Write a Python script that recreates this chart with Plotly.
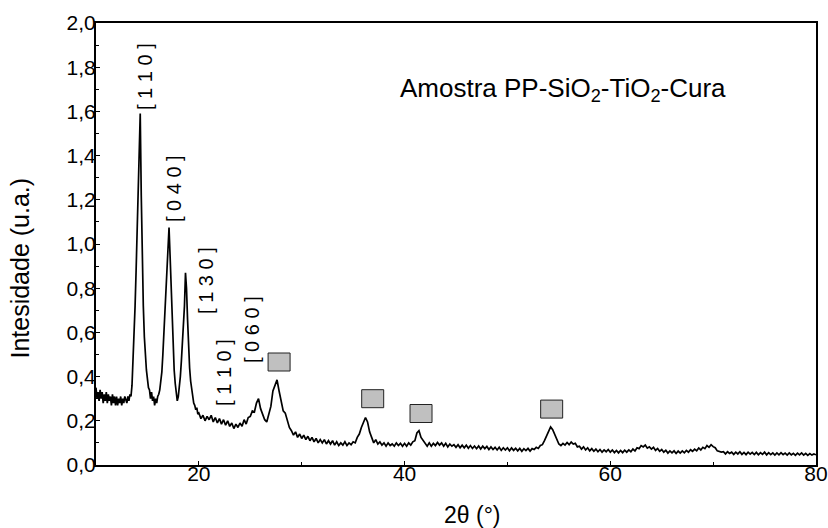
import numpy as np
import plotly.graph_objects as go

# 2-theta sampling: 0.1 deg steps through the strong PP reflections, 0.2 deg afterwards
two_theta = np.round(np.concatenate([np.arange(10.0, 19.95, 0.1), np.arange(20.0, 80.01, 0.2)]), 2)

# Diffracted intensity (u.a.)
intensity = [
    # 10.0 - 19.9 (step 0.1)
    0.35, 0.30, 0.33, 0.29, 0.34, 0.30, 0.33, 0.28, 0.32, 0.29,
    0.33, 0.28, 0.32, 0.29, 0.31, 0.27, 0.32, 0.28, 0.31, 0.27,
    0.31, 0.27, 0.30, 0.28, 0.31, 0.27, 0.30, 0.28, 0.31, 0.29,
    0.28, 0.31, 0.29, 0.32, 0.31, 0.36, 0.46, 0.58, 0.72, 0.88,
    1.08, 1.30, 1.50, 1.59, 1.22, 0.90, 0.72, 0.58, 0.49, 0.43,
    0.39, 0.35, 0.34, 0.30, 0.33, 0.29, 0.31, 0.27, 0.30, 0.28,
    0.31, 0.32, 0.34, 0.37, 0.42, 0.50, 0.60, 0.71, 0.82, 0.93,
    1.02, 1.075, 0.95, 0.80, 0.63, 0.51, 0.43, 0.37, 0.32, 0.29,
    0.31, 0.35, 0.40, 0.47, 0.55, 0.64, 0.72, 0.87, 0.80, 0.66,
    0.52, 0.44, 0.38, 0.34, 0.31, 0.28, 0.27, 0.25, 0.26, 0.23,
    # 20.0 - 80.0 (step 0.2)
    0.235, 0.21, 0.225, 0.20, 0.22,
    0.205, 0.225, 0.195, 0.215, 0.19,
    0.21, 0.185, 0.205, 0.18, 0.20,
    0.175, 0.19, 0.165, 0.185, 0.17,
    0.19, 0.175, 0.205, 0.185, 0.215,
    0.22, 0.245, 0.24, 0.28, 0.30,
    0.255, 0.225, 0.205, 0.195, 0.225,
    0.265, 0.335, 0.36, 0.385, 0.335,
    0.29, 0.245, 0.235, 0.205, 0.17,
    0.155, 0.135, 0.15, 0.125, 0.14,
    0.12, 0.135, 0.115, 0.13, 0.11,
    0.125, 0.105, 0.12, 0.10, 0.115,
    0.10, 0.115, 0.095, 0.11, 0.095,
    0.11, 0.09, 0.105, 0.088, 0.10,
    0.09, 0.105, 0.088, 0.10, 0.092,
    0.105, 0.10, 0.125, 0.14, 0.17,
    0.19, 0.215, 0.195, 0.15, 0.125,
    0.10, 0.115, 0.095, 0.105, 0.09,
    0.10, 0.085, 0.10, 0.088, 0.095,
    0.085, 0.10, 0.088, 0.098, 0.085,
    0.098, 0.085, 0.10, 0.09, 0.105,
    0.11, 0.145, 0.155, 0.125, 0.11,
    0.095, 0.085, 0.10, 0.085, 0.098,
    0.088, 0.102, 0.09, 0.10, 0.085,
    0.098, 0.082, 0.095, 0.085, 0.092,
    0.08, 0.092, 0.078, 0.09, 0.078,
    0.09, 0.076, 0.088, 0.075, 0.086,
    0.074, 0.086, 0.072, 0.085, 0.074,
    0.084, 0.07, 0.082, 0.07, 0.08,
    0.068, 0.08, 0.066, 0.078, 0.068,
    0.078, 0.064, 0.077, 0.066, 0.076,
    0.064, 0.075, 0.062, 0.074, 0.065,
    0.075, 0.063, 0.074, 0.07, 0.08,
    0.075, 0.088, 0.092, 0.11, 0.13,
    0.15, 0.172, 0.16, 0.14, 0.115,
    0.095, 0.088, 0.098, 0.09, 0.102,
    0.092, 0.104, 0.095, 0.098, 0.082,
    0.085, 0.072, 0.082, 0.068, 0.078,
    0.064, 0.074, 0.062, 0.072, 0.06,
    0.07, 0.058, 0.068, 0.06, 0.07,
    0.058, 0.068, 0.056, 0.066, 0.055,
    0.066, 0.056, 0.067, 0.058, 0.068,
    0.06, 0.072, 0.064, 0.078, 0.074,
    0.088, 0.082, 0.09, 0.076, 0.082,
    0.072, 0.08, 0.066, 0.075, 0.062,
    0.07, 0.058, 0.067, 0.054, 0.064,
    0.055, 0.064, 0.052, 0.063, 0.054,
    0.064, 0.055, 0.066, 0.058, 0.069,
    0.062, 0.072, 0.064, 0.077, 0.068,
    0.08, 0.074, 0.088, 0.08, 0.092,
    0.083, 0.078, 0.064, 0.062, 0.058,
    0.06, 0.05, 0.06, 0.052, 0.058,
    0.048, 0.058, 0.05, 0.06, 0.048,
    0.057, 0.047, 0.058, 0.049, 0.057,
    0.047, 0.057, 0.046, 0.056, 0.048,
    0.058, 0.046, 0.056, 0.047, 0.055,
    0.045, 0.055, 0.046, 0.056, 0.047,
    0.054, 0.045, 0.055, 0.046, 0.053,
    0.044, 0.054, 0.046, 0.055, 0.045,
    0.053, 0.044, 0.052, 0.045, 0.05,
    0.046,
]

# Miller-index labels of polypropylene reflections (label anchor in data units)
hkl_labels = ["[ 1 1 0 ]", "[ 0 4 0 ]", "[ 1 3 0 ]", "[ 1 1 0 ]", "[ 0 6 0 ]"]
hkl_x = [14.76, 17.58, 20.69, 22.44, 25.17]
hkl_y = [1.76, 1.253, 0.837, 0.421, 0.611]

# Grey square markers above the oxide reflections
oxide_x = [27.8, 36.9, 41.6, 54.3]
oxide_y = [0.466, 0.300, 0.233, 0.253]

sample_title = "Amostra PP-SiO<sub>2</sub>-TiO<sub>2</sub>-Cura"
x_ticks = [20, 40, 60, 80]
y_ticks = [0.0, 0.2, 0.4, 0.6, 0.8, 1.0, 1.2, 1.4, 1.6, 1.8, 2.0]
y_tick_text = [f"{v:.1f}".replace(".", ",") for v in y_ticks]

FONT = "Liberation Sans, Arial, Helvetica, sans-serif"

fig = go.Figure()
fig.add_trace(go.Scatter(
    x=two_theta, y=intensity, mode="lines",
    line=dict(color="black", width=1.7),
    hoverinfo="skip", showlegend=False,
))

for xa, ya in zip(oxide_x, oxide_y):
    fig.add_shape(
        type="rect", xref="x", yref="y",
        xsizemode="pixel", ysizemode="pixel",
        xanchor=xa, yanchor=ya,
        x0=-11, x1=11, y0=-9, y1=9,
        fillcolor="#c0c0c0", line=dict(color="#222222", width=1),
    )

for txt, xa, ya in zip(hkl_labels, hkl_x, hkl_y):
    fig.add_annotation(
        x=xa, y=ya, xref="x", yref="y", text=txt, textangle=-90,
        xanchor="center", yanchor="middle",
        showarrow=False, font=dict(family=FONT, size=20, color="black"),
    )

fig.add_annotation(
    x=39.36, y=1.70, xref="x", yref="y", text=sample_title,
    xanchor="left", yanchor="middle", showarrow=False,
    font=dict(family=FONT, size=26, color="black"),
)

# Axis titles
fig.add_annotation(
    x=-0.106, y=0.446, xref="paper", yref="paper", text="Intesidade (u.a.)",
    textangle=-90, xanchor="center", yanchor="middle", showarrow=False,
    font=dict(family=FONT, size=25, color="black"),
)
fig.add_annotation(
    x=0.5236, y=-0.112, xref="paper", yref="paper", text="2θ (°)",
    xanchor="center", yanchor="middle", showarrow=False,
    font=dict(family=FONT, size=23, color="black"),
)

axis_common = dict(
    showgrid=False, zeroline=False, showline=True, linecolor="black",
    linewidth=2, mirror=True, ticks="inside", ticklen=4, tickwidth=1,
    tickcolor="black", tickfont=dict(family=FONT, size=21, color="black"),
    automargin=False,
)

fig.update_layout(
    width=828, height=528,
    margin=dict(l=96, r=12, t=23, b=63),
    paper_bgcolor="white", plot_bgcolor="white",
    xaxis=dict(range=[10, 80], tickvals=x_ticks, ticklabelstandoff=-11,
               minor=dict(ticks="inside", ticklen=3, dtick=10, tick0=0, tickcolor="black"),
               **axis_common),
    yaxis=dict(range=[0, 2.0], tickvals=y_ticks, ticktext=y_tick_text, ticklabelstandoff=-6,
               minor=dict(ticks="inside", ticklen=3, dtick=0.1, tick0=0, tickcolor="black"),
               **axis_common),
)

fig.write_html("out.html")
